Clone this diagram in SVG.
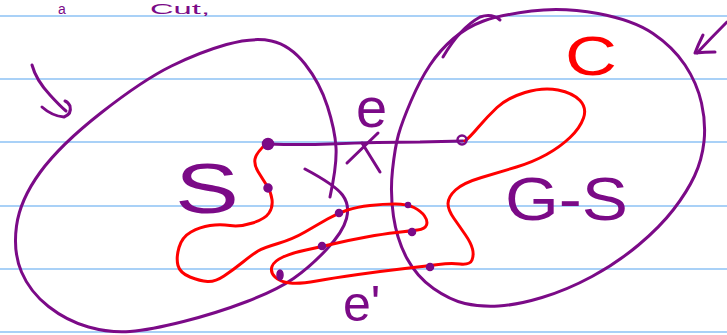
<svg xmlns="http://www.w3.org/2000/svg" width="727" height="335" viewBox="0 0 727 335">
<style>
.rule{stroke:#a9d1f7;stroke-width:2;fill:none}
.pu{stroke:#7b0a87;stroke-width:3;fill:none;stroke-linecap:round;stroke-linejoin:round}
.rd{stroke:#ff0000;stroke-width:3;fill:none;stroke-linecap:round;stroke-linejoin:round}
.v{fill:#7b0a87;stroke:#7b0a87;stroke-width:1.5}
.t{font-family:"Liberation Sans","DejaVu Sans",sans-serif;fill:#7b0a87}
.tr{font-family:"Liberation Sans","DejaVu Sans",sans-serif;fill:#ff0000}
</style>
<rect width="727" height="335" fill="#ffffff"/>
<g id="paper">
<line class="rule" x1="0" y1="16" x2="727" y2="16"/>
<line class="rule" x1="0" y1="79" x2="727" y2="79"/>
<line class="rule" x1="0" y1="142" x2="727" y2="142"/>
<line class="rule" x1="0" y1="206" x2="727" y2="206"/>
<line class="rule" x1="0" y1="269" x2="727" y2="269"/>
<line class="rule" x1="0" y1="332" x2="727" y2="332"/>
</g>
<g id="title">
<text class="t" x="58" y="14" font-size="14">a</text>
<text class="t" x="150" y="14" font-size="14" textLength="60" lengthAdjust="spacingAndGlyphs">Cut,</text>
</g>
<g id="set-S">
<path class="pu" d="M305,169 Q335,185 342.5,195 Q350,205 346.5,218.5 Q343,232 326.5,249.5 Q310,267 293.5,278.5 Q277,290 247,301.5 Q217,313 183.5,321.5 Q150,330 130,331.5 Q110,333 88.5,327 Q67,321 48.5,306.5 Q30,292 21.5,272 Q13,252 16.5,226 Q20,200 40,172.5 Q60,145 101.5,112.5 Q143,80 171.5,66 Q200,52 226.5,44.5 Q253,37 271.5,41 Q290,45 305,64 Q320,83 327.5,106.5 Q335,130 336,147.5 Q337,165 330,197"/>
<path class="pu" d="M32,65 Q36,80 50,95 Q60,106 66,111"/>
<path class="pu" d="M42,107 Q52,116 64,117 Q72,114 70,106 Q68,102 65,101"/>
<text class="t" x="175" y="213" font-size="70" textLength="64" lengthAdjust="spacingAndGlyphs">S</text>
</g>
<g id="set-GS">
<path class="pu" d="M483.5,21 Q500,15 531.5,11 Q563,7 598,13.5 Q633,20 653,33.5 Q673,47 685,65 Q697,83 701.5,103 Q706,123 704,141.5 Q702,160 694.5,176 Q687,192 673.5,209.5 Q660,227 638.5,245 Q617,263 592,276.5 Q567,290 542,297.5 Q517,305 498.5,306 Q480,307 465,303.5 Q450,300 433.5,288.5 Q417,277 407,258.5 Q397,240 393.5,216.5 Q390,193 392.5,170 Q395,147 398.5,134.5 Q402,122 411,101 Q420,80 430,65 Q440,50 453.5,38.5 Q467,27 483.5,21 Z"/>
<path class="pu" d="M443,57 Q460,28 480,17 Q492,13 500,20"/>
<path class="pu" d="M727,22 Q712,37 697,53"/>
<path class="pu" d="M703,35 Q698,45 695,53 Q705,52 715,52"/>
<text class="t" x="505" y="220" font-size="62" textLength="123" lengthAdjust="spacingAndGlyphs">G-S</text>
</g>
<g id="connectors">
<path id="edge-e" class="pu" d="M268,144 Q300,145 330,144 Q380,142 420,142 L463,141"/>
<path id="x-mark" class="pu" d="M378,133 L347,163 M362,143 L380,172"/>
<path id="cycle-C" class="rd" d="M267,143 Q256,153 255,159 Q254,165 258,171.5 Q262,178 266.5,185 Q271,192 272,199.5 Q273,207 269,213 Q265,219 252.5,223 Q240,227 230,225.5 Q220,224 210,225.5 Q200,227 191,232 Q182,237 179,247.5 Q176,258 178,265.5 Q180,273 190,277 Q200,281 207.5,281.5 Q215,282 224,276 Q233,270 243,262 Q253,254 258,251 Q263,248 278,243.5 Q293,239 305,232 Q317,225 327.5,219 Q338,213 347.5,210 Q357,207 370,205.5 Q383,204 395,204 Q407,204 414,207.5 Q421,211 424.5,216 Q428,221 426.5,225 Q425,229 417.5,230 Q410,231 396.5,232.5 Q383,234 366.5,237 Q350,240 335,243.5 Q320,247 306,250 Q292,253 283,257 Q274,261 272,266.5 Q270,272 275,277 Q280,282 290,283 Q300,284 316.5,281 Q333,278 358,274.5 Q383,271 405,268.5 Q427,266 438.5,264.5 Q450,263 460,264 Q470,265 472,260 Q474,255 472.5,249 Q471,243 465.5,235 Q460,227 454,218.5 Q448,210 448,203.5 Q448,197 455.5,190 Q463,183 481.5,177.5 Q500,172 516.5,167 Q533,162 546.5,154.5 Q560,147 570,137.5 Q580,128 583.5,118 Q587,108 580,100.5 Q573,93 558,90 Q543,87 525,92.5 Q507,98 497,107.5 Q487,117 478.5,127 Q470,137 465,141"/>
</g>
<g id="vertices">
<circle class="v" cx="268" cy="144" r="5.5"/>
<circle class="v" cx="268" cy="188" r="4"/>
<circle class="v" cx="339" cy="213" r="3.5"/>
<circle class="v" cx="322" cy="246" r="3.5"/>
<ellipse class="v" cx="280" cy="275" rx="3" ry="5"/>
<circle class="v" cx="412" cy="232" r="3.5"/>
<circle class="v" cx="408" cy="205" r="2.5"/>
<circle class="v" cx="430" cy="267" r="3.5"/>
<circle cx="462" cy="140" r="4.5" fill="none" stroke="#7b0a87" stroke-width="2.5"/>
</g>
<g id="labels">
<text class="t" x="356" y="127" font-size="56">e</text>
<text class="tr" x="565" y="75" font-size="56" textLength="52" lengthAdjust="spacingAndGlyphs">C</text>
<text class="t" x="343" y="321" font-size="50">e'</text>
</g>
</svg>
